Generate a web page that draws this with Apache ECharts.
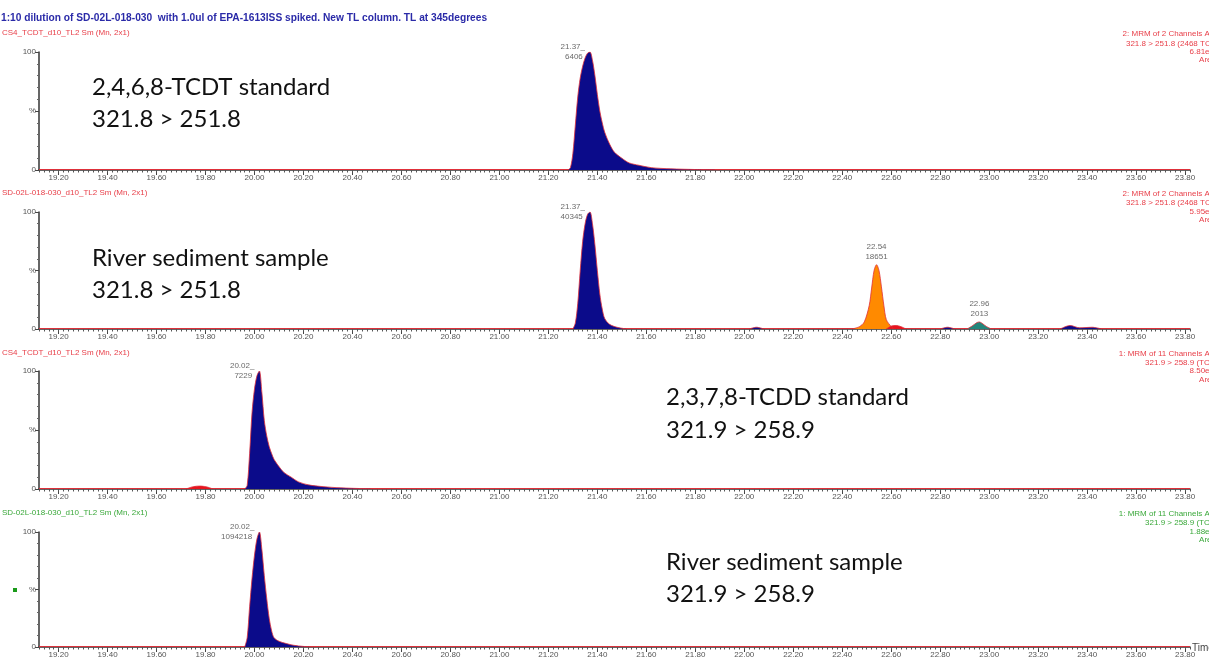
<!DOCTYPE html>
<html>
<head>
<meta charset="utf-8">
<script src="https://cdn.jsdelivr.net/npm/echarts@6/dist/echarts.min.js"></script>
<style>
  html, body { margin: 0; background: #fff; }
  #chart { width: 1209px; height: 659px; }
</style>
</head>
<body>
<div id="chart"></div>
<script>
// time axis (min)
const timeMin = 19.12;
const timeMax = 23.82;
const majorTicks = [19.2, 19.4, 19.6, 19.8, 20.0, 20.2, 20.4, 20.6, 20.8, 21.0, 21.2, 21.4,
  21.6, 21.8, 22.0, 22.2, 22.4, 22.6, 22.8, 23.0, 23.2, 23.4, 23.6, 23.8];

// panel 1: 2,4,6,8-TCDT standard
const p1Main = [[21.28,0],[21.29,2],[21.30,14],[21.31,38],[21.32,62],[21.33,78],[21.34,88],[21.35,95],
  [21.36,99],[21.37,100],[21.38,93],[21.39,80],[21.40,64],[21.41,50],[21.42,40],[21.43,32],[21.45,22],
  [21.47,15],[21.50,10],[21.53,6],[21.57,4],[21.62,2],[21.70,1],[21.80,0.4],[21.90,0]];

// panel 2: river sediment, TCDT channel
const p2Main = [[21.30,0],[21.31,5],[21.32,22],[21.33,50],[21.34,75],[21.35,90],[21.36,98],[21.37,100],
  [21.38,90],[21.39,72],[21.40,50],[21.41,30],[21.42,17],[21.43,9],[21.45,4],[21.48,1.5],[21.52,0]];
const p2Orange = [[22.44,0],[22.47,2],[22.49,6],[22.51,20],[22.52,35],[22.53,50],[22.54,55],[22.55,50],
  [22.56,36],[22.57,20],[22.58,8],[22.60,2],[22.61,0]];
const p2Red = [[22.58,0],[22.60,2.5],[22.62,3],[22.64,2],[22.66,0]];
const p2Teal = [[22.91,0],[22.93,2.5],[22.95,5.5],[22.96,6],[22.97,5],[22.99,2],[23.01,0]];
const p2Small1 = [[22.02,0],[22.05,1.5],[22.08,0]];
const p2Small2 = [[22.80,0],[22.83,1.5],[22.86,0]];
const p2Small3 = [[23.29,0],[23.33,3],[23.37,1],[23.42,1.5],[23.46,0]];

// panel 3: 2,3,7,8-TCDD standard
const p3Main = [[19.96,0],[19.97,3],[19.98,30],[19.99,65],[20.00,85],[20.01,96],[20.02,100],[20.03,82],
  [20.04,58],[20.05,45],[20.06,36],[20.07,30],[20.08,25],[20.10,19],[20.12,14],[20.15,10],[20.18,6],
  [20.22,3.5],[20.28,2],[20.35,1],[20.45,0.3],[20.55,0]];
const p3Red = [[19.72,0],[19.75,2],[19.78,2.5],[19.81,1.5],[19.83,0]];

// panel 4: river sediment, TCDD channel
const p4Main = [[19.96,0],[19.97,8],[19.98,35],[19.99,60],[20.00,80],[20.01,94],[20.02,100],[20.03,85],
  [20.04,62],[20.05,42],[20.06,25],[20.07,14],[20.08,8],[20.10,5],[20.13,3],[20.16,1.5],[20.20,0.5],[20.25,0]];

// peak labels: [panel, time, height, area]
const peakLabels = [
  [0, 21.37, 100, '6406'],
  [1, 21.37, 100, '40345'],
  [1, 22.54, 55, '18651'],
  [1, 22.96, 6, '2013'],
  [2, 20.02, 100, '7229'],
  [3, 20.02, 100, '1094218']
];

const chart = echarts.init(document.getElementById('chart'));

const panels = [
  { top: 52, height: 118 },
  { top: 212, height: 117 },
  { top: 371, height: 118 },
  { top: 532, height: 116 }
];

const minorTicks = [];
for (let i = 956; i <= 1191; i++) minorTicks.push(+(i * 0.02).toFixed(2));

const NAVY = '#0b0b8a';
const TRACE = '#e0303a';

const grid = [], xAxis = [], yAxis = [], series = [];
panels.forEach((p, i) => {
  grid.push({ left: 39, right: 19, top: p.top, height: p.height });
  xAxis.push({
    type: 'value', gridIndex: i, min: timeMin, max: timeMax,
    axisLine: { lineStyle: { color: '#333', width: 1.5 } },
    axisTick: { customValues: majorTicks, length: 5, lineStyle: { color: '#444' } },
    axisLabel: { customValues: majorTicks, formatter: v => v.toFixed(2), color: '#555', fontSize: 8, margin: 4, fontFamily: 'Liberation Sans' },
    splitLine: { show: false }
  });
  xAxis.push({
    type: 'value', gridIndex: i, min: timeMin, max: timeMax, position: 'bottom',
    axisLine: { show: false },
    axisTick: { customValues: minorTicks, length: 2.5, lineStyle: { color: '#555' } },
    axisLabel: { show: false },
    splitLine: { show: false }
  });
  yAxis.push({
    type: 'value', gridIndex: i, min: 0, max: 100, interval: 50,
    axisLine: { show: true, lineStyle: { color: '#333', width: 1.5 } },
    axisTick: { show: true, length: 4, lineStyle: { color: '#444' } },
    minorTick: { show: true, splitNumber: 5, length: 2, lineStyle: { color: '#666' } },
    axisLabel: { formatter: v => v === 50 ? '%' : String(v), color: '#555', fontSize: 8, margin: 3, fontFamily: 'Liberation Sans' },
    splitLine: { show: false }
  });
  // baseline trace
  series.push({
    type: 'line', xAxisIndex: i * 2, yAxisIndex: i, symbol: 'none', silent: true,
    data: [[timeMin, 0.4], [timeMax, 0.4]],
    lineStyle: { color: TRACE, width: 1 }, z: 1
  });
});

function peak(panel, data, fill) {
  series.push({
    type: 'line', xAxisIndex: panel * 2, yAxisIndex: panel, symbol: 'none', smooth: 0.3,
    data: data, lineStyle: { color: TRACE, width: 0.8 },
    areaStyle: { color: fill, opacity: 1 }, z: 2
  });
}

peak(0, p1Main, NAVY);
peak(1, p2Main, NAVY);
peak(1, p2Orange, '#ff8a00');
peak(1, p2Red, '#e8141e');
peak(1, p2Teal, '#23857a');
peak(1, p2Small1, NAVY);
peak(1, p2Small2, NAVY);
peak(1, p2Small3, NAVY);
peak(2, p3Red, '#e8141e');
peak(2, p3Main, NAVY);
peak(3, p4Main, NAVY);

peakLabels.forEach(([panel, t, h, area]) => {
  const full = h >= 100;
  series.push({
    type: 'scatter', xAxisIndex: panel * 2, yAxisIndex: panel, symbolSize: 0, silent: true,
    data: [[t, h]],
    label: {
      show: true, position: full ? 'left' : 'top', distance: full ? 5 : 3,
      offset: [0, 0],
      align: full ? 'right' : 'center',
      formatter: t.toFixed(2) + (full ? '_' : '') + '\n' + area + (full ? ' ' : ''),
      color: '#444', fontSize: 8, lineHeight: 10, fontFamily: 'Liberation Sans'
    }, z: 5
  });
});

const small = (x, y, text, fill, align) => ({
  type: 'text', x: x, y: y,
  style: { text: text, fill: fill, font: '8px "Liberation Sans"', textAlign: align || 'left', textVerticalAlign: 'middle' }
});
const big = (x, y, text) => ({
  type: 'text', x: x, y: y,
  style: { text: text, fill: '#111', font: '24px Lato', textVerticalAlign: 'middle' }
});

const RED = '#e8404a', GREEN = '#3aa83a';
const graphic = [
  { type: 'text', x: 1, y: 18, style: { text: '1:10 dilution of SD-02L-018-030  with 1.0ul of EPA-1613ISS spiked. New TL column. TL at 345degrees', fill: '#2a2aa8', font: 'bold 10.2px "Liberation Sans"', textVerticalAlign: 'middle' } },
  small(2, 33, 'CS4_TCDT_d10_TL2 Sm (Mn, 2x1)', RED),
  small(2, 193, 'SD-02L-018-030_d10_TL2 Sm (Mn, 2x1)', RED),
  small(2, 353, 'CS4_TCDT_d10_TL2 Sm (Mn, 2x1)', RED),
  small(2, 513, 'SD-02L-018-030_d10_TL2 Sm (Mn, 2x1)', GREEN),

  small(1222, 34, '2: MRM of 2 Channels API+', RED, 'right'),
  small(1224, 44, '321.8 > 251.8 (2468 TCDT)', RED, 'right'),
  small(1214, 52, '6.81e3', RED, 'right'),
  small(1216, 60, 'Area', RED, 'right'),
  small(1222, 194, '2: MRM of 2 Channels API+', RED, 'right'),
  small(1224, 203, '321.8 > 251.8 (2468 TCDT)', RED, 'right'),
  small(1214, 212, '5.95e4', RED, 'right'),
  small(1216, 220, 'Area', RED, 'right'),
  small(1222, 354, '1: MRM of 11 Channels API+', RED, 'right'),
  small(1224, 363, '321.9 > 258.9 (TCDD)', RED, 'right'),
  small(1214, 371, '8.50e3', RED, 'right'),
  small(1216, 380, 'Area', RED, 'right'),
  small(1222, 514, '1: MRM of 11 Channels API+', GREEN, 'right'),
  small(1224, 523, '321.9 > 258.9 (TCDD)', GREEN, 'right'),
  small(1214, 532, '1.88e6', GREEN, 'right'),
  small(1216, 540, 'Area', GREEN, 'right'),

  big(92, 87, '2,4,6,8-TCDT standard'),
  big(92, 119, '321.8 > 251.8'),
  big(92, 258, 'River sediment sample'),
  big(92, 290, '321.8 > 251.8'),
  big(666, 397, '2,3,7,8-TCDD standard'),
  big(666, 430, '321.9 > 258.9'),
  big(666, 562, 'River sediment sample'),
  big(666, 594, '321.9 > 258.9'),

  { type: 'text', x: 1192, y: 648, style: { text: 'Time', fill: '#444', font: '10px "Liberation Sans"', textVerticalAlign: 'middle' } },
  { type: 'rect', shape: { x: 13, y: 588, width: 4, height: 4 }, style: { fill: '#1a9a1a' } }
];

chart.setOption({
  backgroundColor: '#fff',
  animation: false,
  grid: grid,
  xAxis: xAxis,
  yAxis: yAxis,
  series: series,
  graphic: graphic
});
window.onresize = chart.resize;
</script>
</body>
</html>
